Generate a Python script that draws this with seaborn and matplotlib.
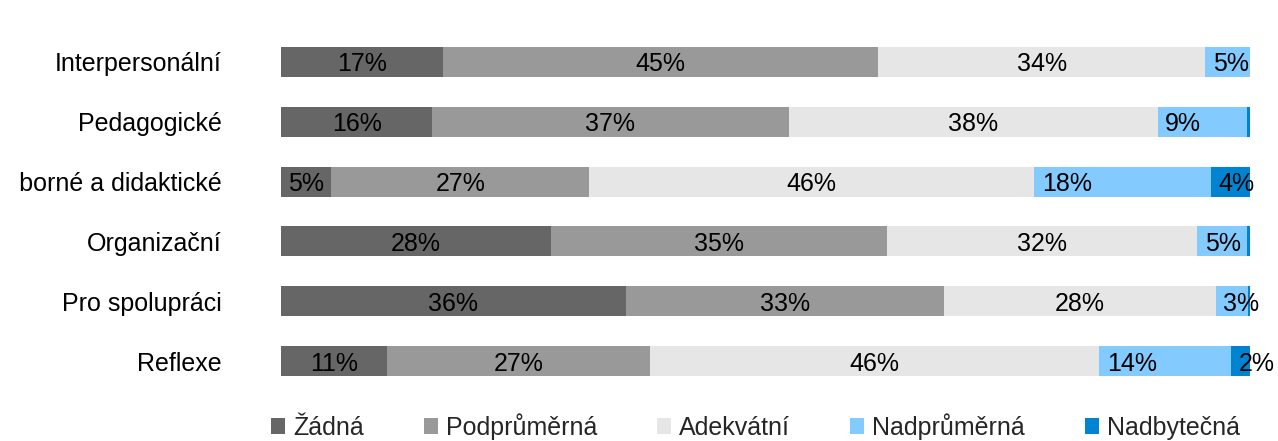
import matplotlib
matplotlib.use("Agg")
import matplotlib.pyplot as plt
import numpy as np
import pandas as pd
import seaborn as sns
from matplotlib.patches import Patch
from matplotlib.transforms import Bbox

# Share of answers per competence area (percent of respondents)
categories = ["Interpersonální", "Pedagogické", "Odborné a didaktické",
              "Organizační", "Pro spolupráci", "Reflexe"]
levels = ["Žádná", "Podprůměrná", "Adekvátní", "Nadprůměrná", "Nadbytečná"]
zadna = [16.7, 15.6, 5.2, 27.9, 35.6, 10.9]
podprumerna = [44.9, 36.8, 26.6, 34.6, 32.8, 27.2]
adekvatni = [33.8, 38.1, 45.9, 32.0, 28.1, 46.3]
nadprumerna = [4.6, 9.2, 18.3, 5.2, 3.3, 13.6]
nadbytecna = [0.0, 0.3, 4.0, 0.3, 0.2, 2.0]

colors = ["#666666", "#999999", "#e6e6e6", "#83caff", "#0084d1"]

# horizontal nudges (pixels) for labels crowded at the right end of a bar
label_nudge = {(0, 3): 3, (1, 3): -20, (2, 3): -55, (2, 4): 6, (3, 3): 1,
               (4, 3): 9, (5, 3): -33, (5, 4): 16}

sns.set_theme(style="white")
plt.rcParams["font.family"] = ["Liberation Sans", "DejaVu Sans"]

series = [zadna, podprumerna, adekvatni, nadprumerna, nadbytecna]
values = np.array(series)               # shape (levels, categories)
cum = np.cumsum(values, axis=0)

fig = plt.figure(figsize=(12.78, 4.41), dpi=100)
ax = fig.add_axes([281 / 1278, 1 - 391 / 441, 969 / 1278, 359 / 441])

# stacked bars: draw cumulative totals from the longest down so each layer shows its segment
for i in range(len(levels) - 1, -1, -1):
    df = pd.DataFrame({"kategorie": categories, "hodnota": cum[i]})
    sns.barplot(data=df, x="hodnota", y="kategorie", orient="h",
                color=colors[i], saturation=1, width=0.5, errorbar=None,
                linewidth=0, ax=ax)

# percentage labels centred in each segment
for i in range(len(levels)):
    for j in range(len(categories)):
        v = values[i, j]
        if v < 1:
            continue
        xc = cum[i, j] - v / 2
        ax.annotate(f"{v:.0f}%", xy=(xc, j), xytext=(label_nudge.get((j, i), 0), 0),
                    textcoords="offset pixels", ha="center", va="center_baseline",
                    fontsize=18, color="black")

ax.set_xlim(0, 100)
ax.set_ylim(5.5, -0.5)
ax.set_xlabel("")
ax.set_ylabel("")
ax.set_xticks([])
ax.tick_params(axis="y", left=False, pad=36.5, labelsize=18, labelcolor="black")
for s in ax.spines.values():
    s.set_visible(False)

# the long category name runs past the left margin; trim it to the label column
label_area = Bbox.from_extents(18, 0, 1278, 441)
for lbl in ax.get_yticklabels():
    lbl.set_clip_box(label_area)
    lbl.set_clip_on(True)

handles = [Patch(facecolor=c, edgecolor="none", label=l) for c, l in zip(colors, levels)]
fig.legend(handles=handles, loc="center", bbox_to_anchor=(0.591, 0.033), ncol=5,
           frameon=False, fontsize=18, handlelength=0.56, handleheight=0.56,
           handletextpad=0.32, columnspacing=2.40, borderaxespad=0, borderpad=0)

fig.savefig("out.png", dpi=100)
